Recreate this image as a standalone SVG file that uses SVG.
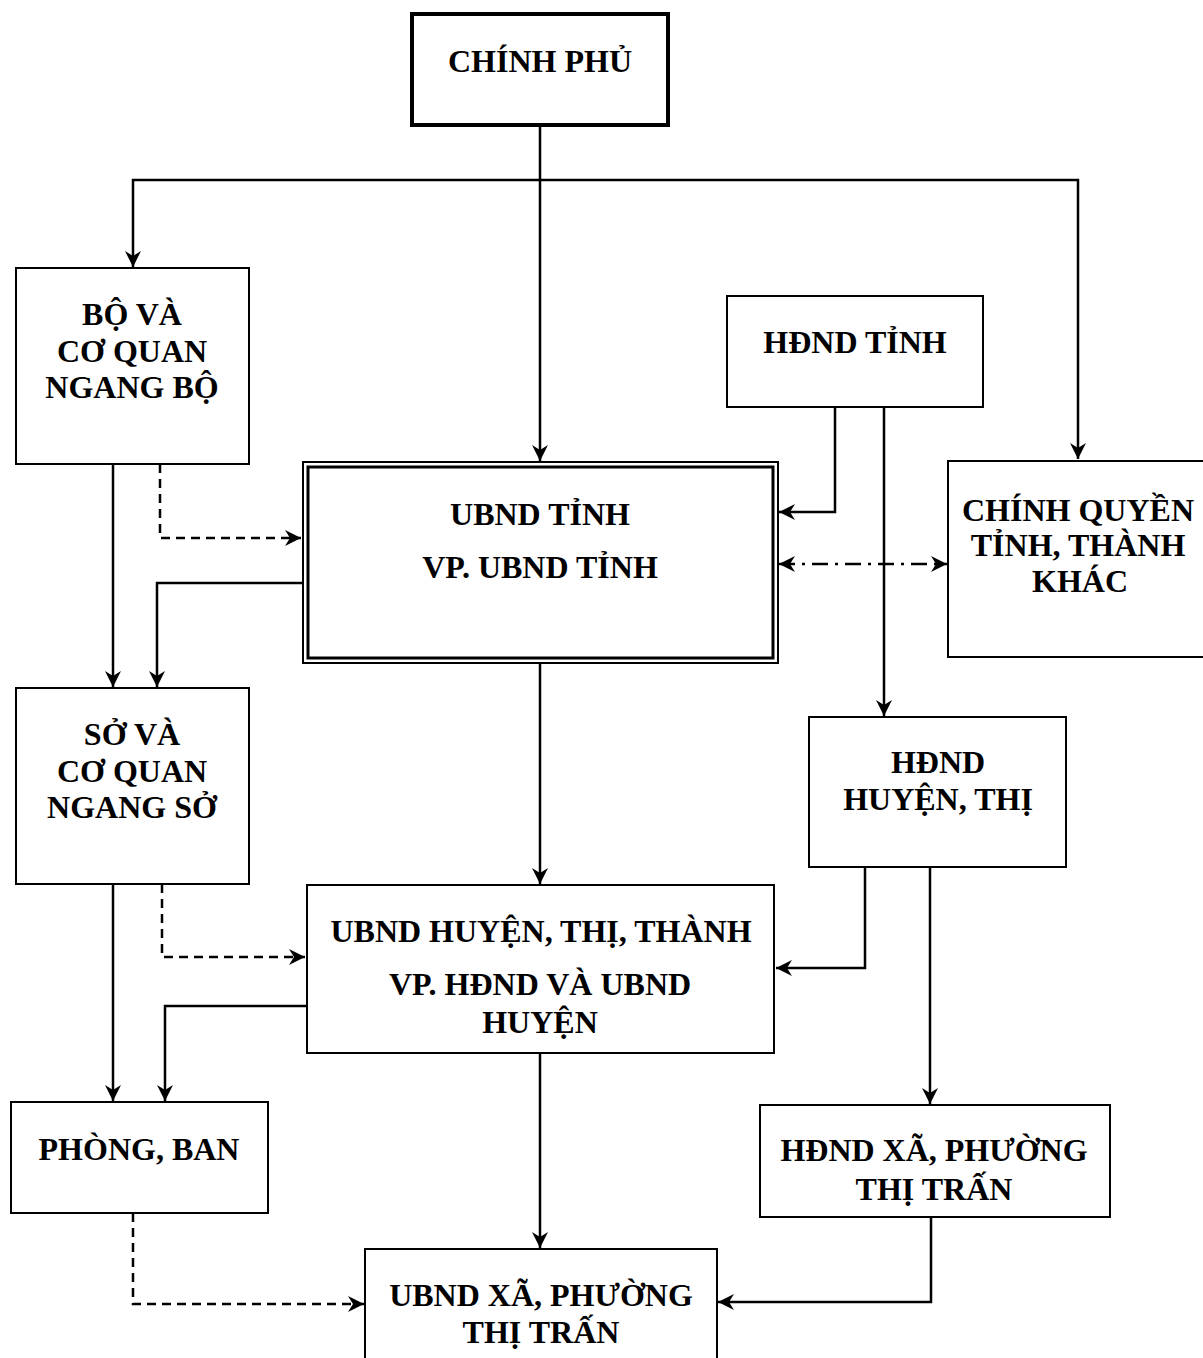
<svg xmlns="http://www.w3.org/2000/svg" width="1203" height="1358" viewBox="0 0 1203 1358">
<style>
.box{fill:#fff;stroke:#000;stroke-width:2}
.t{font-family:"Liberation Serif","Times New Roman",serif;font-weight:bold;font-size:32px;text-anchor:middle;fill:#000}
.c{fill:none;stroke:#000;stroke-width:2.5}
.d{stroke-dasharray:9 6}
.dd{stroke-dasharray:16 7 3 7}
</style>
<defs>
<marker id="a" markerUnits="userSpaceOnUse" markerWidth="18" markerHeight="18" refX="16" refY="9" orient="auto">
<path d="M0,1 L16,9 L0,17 L5,9 z" fill="#000"/>
</marker>
<marker id="as" markerUnits="userSpaceOnUse" markerWidth="18" markerHeight="18" refX="16" refY="9" orient="auto-start-reverse">
<path d="M0,1 L16,9 L0,17 L5,9 z" fill="#000"/>
</marker>
</defs>
<rect width="1203" height="1358" fill="#fff"/>
<g id="connectors">
<path class="c" d="M540,127 V461" marker-end="url(#a)"/>
<path class="c" d="M540,180 H133 V267" marker-end="url(#a)"/>
<path class="c" d="M540,180 H1078 V459" marker-end="url(#a)"/>
<path class="c" d="M835,407 V512 H779" marker-end="url(#a)"/>
<path class="c" d="M884,407 V716" marker-end="url(#a)"/>
<path class="c dd" d="M779,564 H947" marker-start="url(#as)" marker-end="url(#as)"/>
<path class="c" d="M113,464 V687" marker-end="url(#a)"/>
<path class="c d" d="M160,464 V538 H301" marker-end="url(#a)"/>
<path class="c" d="M302,583 H157 V687" marker-end="url(#a)"/>
<path class="c" d="M540,663 V884" marker-end="url(#a)"/>
<path class="c" d="M865,867 V968 H776" marker-end="url(#a)"/>
<path class="c" d="M930,867 V1104" marker-end="url(#a)"/>
<path class="c" d="M113,884 V1101" marker-end="url(#a)"/>
<path class="c d" d="M162,884 V957 H305" marker-end="url(#a)"/>
<path class="c" d="M306,1006 H165 V1101" marker-end="url(#a)"/>
<path class="c" d="M540,1053 V1248" marker-end="url(#a)"/>
<path class="c" d="M931,1217 V1302 H718" marker-end="url(#a)"/>
<path class="c d" d="M133,1213 V1304 H364" marker-end="url(#a)"/>
</g>
<g id="chinh-phu">
<rect x="412" y="14" width="256" height="111" fill="#fff" stroke="#000" stroke-width="4"/>
<text class="t" x="540" y="72">CHÍNH PHỦ</text>
</g>
<g id="bo">
<rect class="box" x="16" y="268" width="233" height="196"/>
<text class="t" x="132" y="325">BỘ VÀ</text>
<text class="t" x="132" y="362">CƠ QUAN</text>
<text class="t" x="132" y="398">NGANG BỘ</text>
</g>
<g id="hdnd-tinh">
<rect class="box" x="727" y="296" width="256" height="111"/>
<text class="t" x="855" y="353">HĐND TỈNH</text>
</g>
<g id="ubnd-tinh">
<rect class="box" x="303" y="462" width="475" height="201"/>
<rect x="308" y="467" width="465" height="191" fill="none" stroke="#000" stroke-width="3"/>
<text class="t" x="540" y="525">UBND TỈNH</text>
<text class="t" x="540" y="578">VP. UBND TỈNH</text>
</g>
<g id="chinh-quyen-khac">
<rect class="box" x="948" y="461" width="260" height="196"/>
<text class="t" x="1078" y="521">CHÍNH QUYỀN</text>
<text class="t" x="1078" y="556">TỈNH, THÀNH</text>
<text class="t" x="1080" y="592">KHÁC</text>
</g>
<g id="so">
<rect class="box" x="16" y="688" width="233" height="196"/>
<text class="t" x="132" y="745">SỞ VÀ</text>
<text class="t" x="132" y="782">CƠ QUAN</text>
<text class="t" x="132" y="818">NGANG SỞ</text>
</g>
<g id="hdnd-huyen">
<rect class="box" x="809" y="717" width="257" height="150"/>
<text class="t" x="938" y="773">HĐND</text>
<text class="t" x="938" y="810">HUYỆN, THỊ</text>
</g>
<g id="ubnd-huyen">
<rect class="box" x="307" y="885" width="467" height="168"/>
<text class="t" x="541" y="942">UBND HUYỆN, THỊ, THÀNH</text>
<text class="t" x="540" y="995">VP. HĐND VÀ UBND</text>
<text class="t" x="540" y="1033">HUYỆN</text>
</g>
<g id="phong-ban">
<rect class="box" x="11" y="1102" width="257" height="111"/>
<text class="t" x="139" y="1160">PHÒNG, BAN</text>
</g>
<g id="hdnd-xa">
<rect class="box" x="760" y="1105" width="350" height="112"/>
<text class="t" x="934" y="1161">HĐND XÃ, PHƯỜNG</text>
<text class="t" x="934" y="1200">THỊ TRẤN</text>
</g>
<g id="ubnd-xa">
<rect class="box" x="365" y="1249" width="352" height="120"/>
<text class="t" x="541" y="1306">UBND XÃ, PHƯỜNG</text>
<text class="t" x="541" y="1343">THỊ TRẤN</text>
</g>
</svg>
